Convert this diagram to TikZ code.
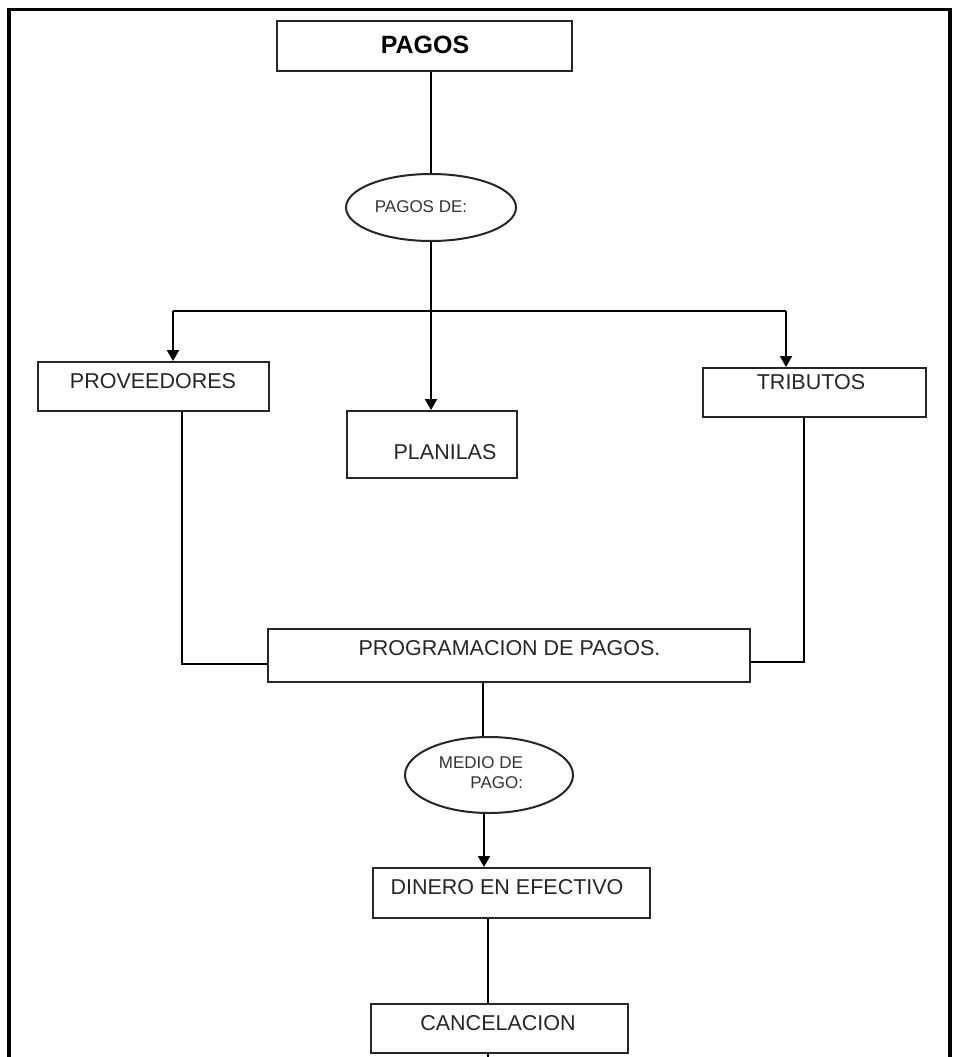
\documentclass[tikz,border=0pt]{standalone}
\usepackage{fontspec}
\setmainfont{Liberation Sans}
\usetikzlibrary{arrows.meta,shapes.geometric}
\begin{document}
\begin{tikzpicture}[x=1pt,y=-1pt,
  box/.style={draw=black!85,line width=2pt,rectangle,inner sep=0pt},
  oval/.style={draw=black!85,line width=2pt,ellipse,inner sep=0pt},
  lbl/.style={inner sep=0pt,font=\fontsize{21.5}{24}\selectfont,text=black!85},
  small/.style={inner sep=0pt,font=\fontsize{17}{20}\selectfont,text=black!80},
  link/.style={draw=black,line width=2pt},
  arr/.style={link,-{Triangle[length=11pt,width=12pt]}},
  frame/.style={draw=black,line width=3.7pt}]

% page and outer frame
\fill[white] (0,0) rectangle (953,1057);
\useasboundingbox (0,0) rectangle (953,1057);
\draw[frame] (9,1057) -- (9,9.5) -- (950,9.5) -- (950,1057);

% boxes and ovals
\node[box,minimum width=295pt,minimum height=50pt] (pagos) at (424.5,46) {};
\node[inner sep=0pt,font=\fontsize{25}{28}\selectfont\bfseries] (pagosT) at (425,45) {PAGOS};

\node[oval,minimum width=170pt,minimum height=67pt] (de) at (431,207.5) {};
\node[small] (deT) at (421,207) {PAGOS DE:};

\node[box,minimum width=231pt,minimum height=49pt] (prov) at (153.5,386.5) {};
\node[lbl] (provT) at (153,381) {PROVEEDORES};

\node[box,minimum width=170pt,minimum height=67pt] (plan) at (432,444.5) {};
\node[lbl] (planT) at (445,452) {PLANILAS};

\node[box,minimum width=223pt,minimum height=49pt] (trib) at (814.5,392.5) {};
\node[lbl] (tribT) at (811,382) {TRIBUTOS};

\node[box,minimum width=482pt,minimum height=53pt] (prog) at (509,655.5) {};
\node[lbl] (progT) at (509.5,648) {PROGRAMACION DE PAGOS.};

\node[oval,minimum width=168pt,minimum height=76pt] (medio) at (489,775) {};
\node[small,align=right] (medioT) at (481,773) {MEDIO DE\\PAGO:};

\node[box,minimum width=277pt,minimum height=50pt] (din) at (511.5,893) {};
\node[lbl] (dinT) at (507,887) {DINERO EN EFECTIVO};

\node[box,minimum width=257pt,minimum height=49pt] (canc) at (499.5,1028.5) {};
\node[lbl] (cancT) at (498,1023) {CANCELACION};

% branch points
\coordinate (bl) at (173,311);
\coordinate (br) at (786,311);
\coordinate (foot) at (488,1057);

% connectors
\draw[link] (de.north |- pagos.south) -- (de.north);
\draw[arr] (de.south) -- (de.south |- plan.north);
\draw[link] (bl) -- (br);
\draw[arr] (bl) -- (bl |- prov.north);
\draw[arr] (br) -- (br |- trib.north);
\draw[link] ([xshift=28.5pt]prov.south) |- ([yshift=-8.5pt]prog.west);
\draw[link] ([xshift=-10.5pt]trib.south) |- ([yshift=-6.5pt]prog.east);
\draw[link] ([xshift=-6pt]medio.north |- prog.south) -- ([xshift=-6pt]medio.north);
\draw[arr] ([xshift=-5pt]medio.south) -- ([xshift=-5pt]medio.south |- din.north);
\draw[link] ([xshift=-23.5pt]din.south) -- ([xshift=-11.5pt]canc.north);
\draw[link] ([xshift=-11.5pt]canc.south) -- (foot);
\end{tikzpicture}
\end{document}
